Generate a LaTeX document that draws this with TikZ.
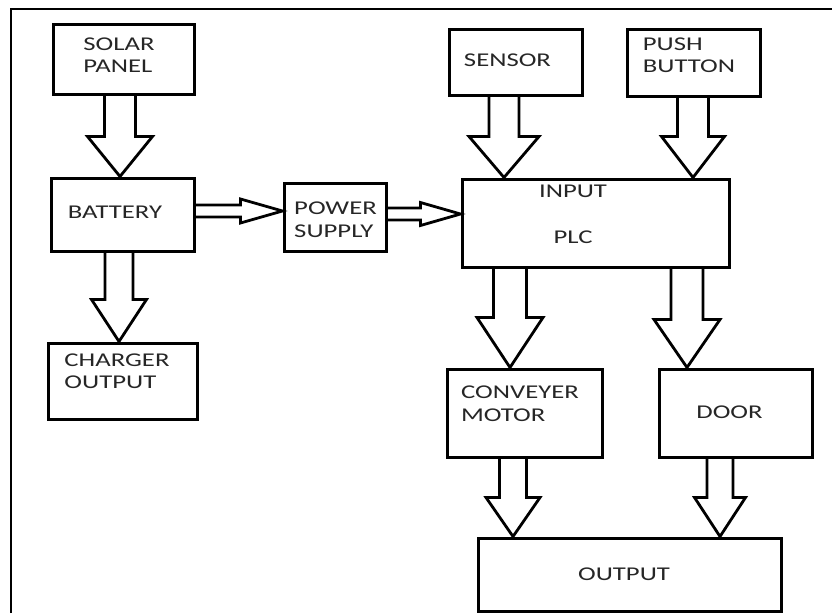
\documentclass[tikz,border=0pt]{standalone}
\usepackage{fontspec}
\setmainfont{Carlito}[FakeStretch=1.37]
\usetikzlibrary{calc}

\begin{document}
\begin{tikzpicture}
			[
				x=1pt, y=-1pt,
				box/.style={draw, line width=3pt, rectangle, inner sep=0pt},
				lbl/.style={draw=none, fill=none, inner sep=0pt, align=left, text=black!85,
					font=\fontsize{19.5}{22.5}\selectfont},
				fat/.style={line width=2.8pt, line join=miter}
			]
			\useasboundingbox (0,0) rectangle (832,613);

			% frame
			\draw[line width=2pt] (11,613) -- (11,9) -- (832,9);

			% blocks
			\node[box, minimum width=141pt, minimum height=70pt] (solar) at (123.5, 59.0) {};
			\node[box, minimum width=143pt, minimum height=73pt] (battery) at (122.5,214.5) {};
			\node[box, minimum width=149pt, minimum height=76pt] (charger) at (122.5,381.0) {};
			\node[box, minimum width=102pt, minimum height=68pt] (power) at (335.0,217.0) {};
			\node[box, minimum width=133pt, minimum height=66pt] (sensor) at (515.5, 62.0) {};
			\node[box, minimum width=133pt, minimum height=67pt] (push) at (693.5, 62.5) {};
			\node[box, minimum width=267pt, minimum height=88pt] (plc) at (595.5,223.0) {};
			\node[box, minimum width=155pt, minimum height=88pt] (motor) at (524.5,413.0) {};
			\node[box, minimum width=153pt, minimum height=88pt] (door) at (735.5,413.0) {};
			\node[box, minimum width=303pt, minimum height=73pt] (output) at (629.5,574.5) {};

			% block texts
			\node[lbl] (solar-t) at (119.0, 55.0) {SOLAR\\PANEL};
			\node[lbl] (battery-t) at (115.0,212.0) {BATTERY};
			\node[lbl] (charger-t) at (117.0,371.0) {CHARGER\\OUTPUT};
			\node[lbl] (power-t) at (335.5,219.5) {POWER\\SUPPLY};
			\node[lbl] (sensor-t) at (507.5, 60.0) {SENSOR};
			\node[lbl] (push-t) at (689.0, 55.0) {PUSH\\BUTTON};
			\node[lbl, align=center] (plc-t) at (573.0,214.0) {INPUT\\[23.5pt]PLC};
			\node[lbl] (motor-t) at (520.0,403.5) {CONVEYER\\MOTOR};
			\node[lbl] (door-t) at (729.5,412.0) {DOOR};
			\node[lbl] (output-t) at (624.0,574.0) {OUTPUT};

			% hollow arrows, downwards
			\foreach \from/\to/\px/\s/\h/\len in {solar/battery/120/15.5/32.5/40,
				battery/charger/119/14/27.5/42, sensor/plc/504/15/35/41,
				push/plc/693/15.5/31.5/41, plc/motor/510/16.5/33/50,
				plc/door/687/16/33/48, motor/output/513/13.5/27/39,
				door/output/720/13/25.5/39}
			\draw[fat] let \p1=(\from.south), \p2=(\to.north) in
				(\px pt-\s pt,\y1) -- (\px pt-\s pt,\y2+\len pt) -- (\px pt-\h pt,\y2+\len pt)
				-- (\px pt,\y2) -- (\px pt+\h pt,\y2+\len pt) -- (\px pt+\s pt,\y2+\len pt)
				-- (\px pt+\s pt,\y1);

			% hollow arrows, to the right
			\foreach \from/\to/\py/\s/\h/\len in {battery/power/211/6/12/42,
				power/plc/214/6/11.5/40}
			\draw[fat] let \p1=(\from.east), \p2=(\to.west) in
				(\x1,-\py pt+\s pt) -- (\x2-\len pt,-\py pt+\s pt) -- (\x2-\len pt,-\py pt+\h pt)
				-- (\x2,-\py pt) -- (\x2-\len pt,-\py pt-\h pt) -- (\x2-\len pt,-\py pt-\s pt)
				-- (\x1,-\py pt-\s pt);

		\end{tikzpicture}
\end{document}
